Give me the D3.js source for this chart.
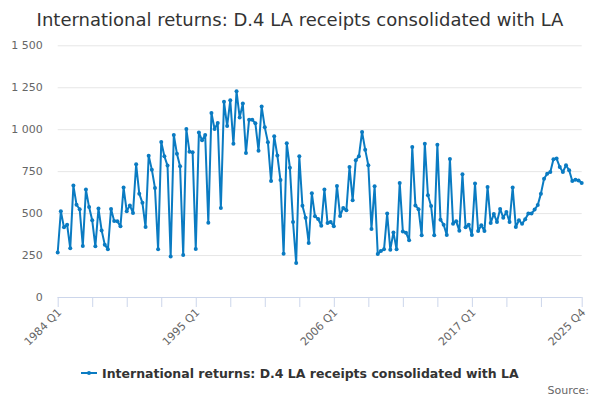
<!DOCTYPE html>
<html>
<head>
<meta charset="utf-8">
<script src="https://cdn.jsdelivr.net/npm/d3@7/dist/d3.min.js"></script>
<style>
  body { margin: 0; background: #fff; }
  svg { font-family: "DejaVu Sans", sans-serif; }
</style>
</head>
<body>
<div id="chart"></div>
<script>
// Chart text
let titleText = "International returns: D.4 LA receipts consolidated with LA";
let seriesName = "International returns: D.4 LA receipts consolidated with LA";

// Categories: quarters 1984 Q1 .. 2025 Q4
let years = d3.range(1984, 2026);
let quarters = ["Q1", "Q2", "Q3", "Q4"];
let categories = [];
years.forEach(y => quarters.forEach(q => categories.push(y + " " + q)));

// Values (one per quarter)
let values = [
    265, 511, 415, 431, 290, 664, 550, 523, 304, 640,
    536, 457, 302, 527, 397, 312, 284, 525, 453, 451,
    421, 652, 511, 546, 501, 791, 616, 561, 417, 842,
    759, 650, 284, 924, 839, 783, 242, 966, 854, 779,
    250, 1001, 866, 862, 286, 981, 934, 966, 443, 1097,
    1001, 1037, 530, 1164, 1019, 1172, 914, 1226, 1069, 1153,
    858, 1057, 1057, 1035, 872, 1135, 1011, 922, 691, 958,
    844, 697, 258, 916, 771, 447, 203, 839, 544, 473,
    322, 618, 481, 465, 425, 640, 441, 447, 421, 662,
    483, 531, 517, 775, 576, 815, 839, 984, 878, 785,
    405, 660, 256, 274, 284, 497, 282, 385, 284, 680,
    391, 383, 338, 894, 546, 523, 368, 914, 606, 542,
    368, 908, 461, 431, 370, 823, 437, 451, 395, 731,
    415, 431, 370, 676, 393, 427, 393, 656, 441, 495,
    447, 525, 473, 507, 447, 652, 417, 457, 437, 463,
    497, 497, 521, 548, 616, 705, 735, 745, 821, 825,
    775, 745, 785, 755, 691, 699, 695, 680
];

// Axis ticks
let yTicks = [0, 250, 500, 750, 1000, 1250, 1500];
let xTickLabels = ["1984 Q1", "1995 Q1", "2006 Q1", "2017 Q1", "2025 Q4"];
let xTickMarks = categories.filter((c, i) => i % 11 === 0 && i < 160).concat(["2025 Q4"]);

let svgWidth = 600;
let svgHeight = 400;
let lineColor = "#0a7bc2";

let svg = d3.select("#chart")
    .append("svg")
    .attr("width", svgWidth)
    .attr("height", svgHeight);

let x = d3.scalePoint()
    .domain(categories)
    .range([57.7, 581.7]);

let y = d3.scaleLinear()
    .domain([0, 1500])
    .range([297, 45.3]);

// Title
svg.append("text")
    .attr("x", 300)
    .attr("y", 26)
    .attr("text-anchor", "middle")
    .attr("font-size", 18)
    .attr("fill", "#333")
    .text(titleText);

// Grid lines + y labels
let yAxis = d3.axisLeft(y)
    .tickValues(yTicks)
    .tickSize(-(581.7 - 57.7))
    .tickPadding(15)
    .tickFormat(d => d3.format(",")(d).replace(/,/g, " "));

let yg = svg.append("g")
    .attr("transform", "translate(57.7,0)")
    .call(yAxis);
yg.select(".domain").remove();
yg.selectAll(".tick line").attr("stroke", "#e6e6e6");
yg.selectAll(".tick text")
    .attr("fill", "#666")
    .attr("font-size", 11)
    .attr("font-family", "DejaVu Sans, sans-serif");

// X axis
let xAxis = d3.axisBottom(x)
    .tickValues(xTickMarks)
    .tickSize(10)
    .tickFormat(d => xTickLabels.includes(d) ? d : "");

let xg = svg.append("g")
    .attr("transform", "translate(0,297)")
    .call(xAxis);
xg.select(".domain")
    .attr("stroke", "#ccd6eb")
    .attr("d", "M57.7,0.5H581.7");
xg.selectAll(".tick line").attr("stroke", "#ccd6eb");
xg.selectAll(".tick text")
    .attr("fill", "#666")
    .attr("font-size", 11)
    .attr("font-family", "DejaVu Sans, sans-serif")
    .attr("text-anchor", "end")
    .attr("dy", null)
    .attr("y", 0)
    .attr("transform", "translate(4,16) rotate(-45)");

// Line
let line = d3.line()
    .x((d, i) => x(categories[i]))
    .y(d => y(d));

svg.append("path")
    .datum(values)
    .attr("fill", "none")
    .attr("stroke", lineColor)
    .attr("stroke-width", 2)
    .attr("stroke-linejoin", "round")
    .attr("d", line);

svg.append("g")
    .selectAll("circle")
    .data(values)
    .join("circle")
    .attr("cx", (d, i) => x(categories[i]))
    .attr("cy", d => y(d))
    .attr("r", 2)
    .attr("fill", lineColor);

// Legend
let legend = svg.append("g").attr("transform", "translate(0,373)");
legend.append("line")
    .attr("x1", 81).attr("x2", 97)
    .attr("y1", 0).attr("y2", 0)
    .attr("stroke", lineColor)
    .attr("stroke-width", 2);
legend.append("circle")
    .attr("cx", 89).attr("cy", 0).attr("r", 2)
    .attr("fill", lineColor);
legend.append("text")
    .attr("x", 102)
    .attr("y", 4.5)
    .attr("font-size", 12.5)
    .attr("font-weight", "bold")
    .attr("fill", "#333")
    .text(seriesName);

// Credits
svg.append("text")
    .attr("x", 589)
    .attr("y", 394)
    .attr("text-anchor", "end")
    .attr("font-size", 11)
    .attr("fill", "#666")
    .text("Source:");
</script>
</body>
</html>
